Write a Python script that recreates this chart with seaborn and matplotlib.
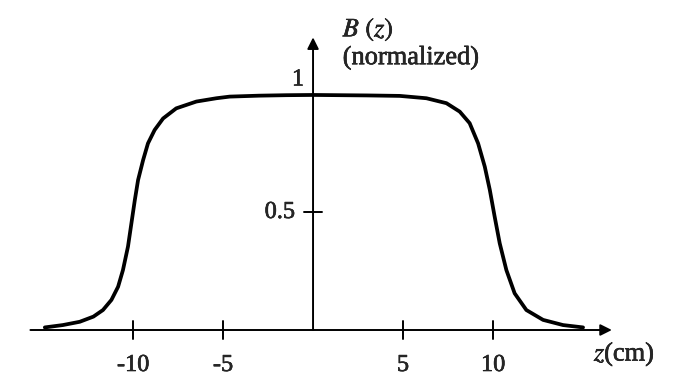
import matplotlib
matplotlib.use("Agg")
import matplotlib.pyplot as plt
import matplotlib.patheffects as pe
import seaborn as sns
import pandas as pd

# Data
z_cm = [-14.9, -13.9, -12.96, -12.2, -11.67, -11.2, -10.83, -10.56, -10.28,
        -10.09, -9.9, -9.72, -9.44, -9.17, -8.8, -8.33, -7.6, -6.48, -5.37,
        -4.63, -3.0, -1.5, 0.0, 1.5, 3.0, 4.82, 6.3, 7.41, 8.15, 8.7, 9.17,
        9.54, 9.82, 10.09, 10.37, 10.74, 11.2, 11.85, 12.78, 13.89, 15.0]
b_norm = [0.011, 0.021, 0.035, 0.057, 0.085, 0.128, 0.184, 0.255, 0.355,
          0.454, 0.553, 0.638, 0.723, 0.794, 0.851, 0.900, 0.943, 0.972, 0.986,
          0.993, 0.997, 0.999, 1.0, 0.999, 0.998, 0.996, 0.986, 0.965, 0.929,
          0.880, 0.794, 0.695, 0.596, 0.482, 0.369, 0.255, 0.156, 0.085, 0.043,
          0.021, 0.011]
x_ticks = [-10, -5, 5, 10]
x_tick_labels = ["-10", "-5", "5", "10"]
y_ticks = [0.5]
y_tick_labels = ["0.5"]

sns.set_style("white")
plt.rcParams["font.family"] = ["Liberation Serif", "DejaVu Serif"]
plt.rcParams["mathtext.fontset"] = "stix"

fig = plt.figure(figsize=(6.79, 3.89), dpi=100)
ax = fig.add_axes([0, 0, 1, 1])

df = pd.DataFrame({"z": z_cm, "B": b_norm})
sns.lineplot(data=df, x="z", y="B", ax=ax, color="black", linewidth=2.7,
             sort=True, estimator=None)
for ln in ax.get_lines():
    ln.set_solid_joinstyle("round")
    ln.set_solid_capstyle("round")

ax.set_xlim(-17.39, 20.33)
ax.set_ylim(-0.251, 1.404)
ax.axis("off")

# axes with arrows
ax.annotate("", xy=(16.6, 0), xytext=(-15.7, 0),
            arrowprops=dict(arrowstyle="-|>", mutation_scale=17, lw=1.4,
                            color="black", shrinkA=0, shrinkB=0))
ax.annotate("", xy=(0, 1.245), xytext=(0, 0),
            arrowprops=dict(arrowstyle="-|>", mutation_scale=17, lw=1.4,
                            color="black", shrinkA=0, shrinkB=0))

fx = [pe.withStroke(linewidth=0.4, foreground="black")]

# ticks
for xt, lab in zip(x_ticks, x_tick_labels):
    ax.plot([xt, xt], [-0.038, 0.038], color="black", lw=1.4)
    ax.text(xt, -0.151, lab, ha="center", va="center", fontsize=17.5,
            path_effects=fx)
for yt, lab in zip(y_ticks, y_tick_labels):
    ax.plot([-0.5, 0.5], [yt, yt], color="black", lw=1.4)
    ax.text(-1.0, yt, lab, ha="right", va="center", fontsize=17.5,
            path_effects=fx)
ax.text(-0.5, 1.064, "1", ha="right", va="center", fontsize=17.5,
        path_effects=fx)

ax.text(1.65, 1.277, r"$B\ (z)$", ha="left", va="center", fontsize=19,
        path_effects=fx)
ax.text(1.65, 1.157, "(normalized)", ha="left", va="center", fontsize=19,
        path_effects=fx)
ax.text(15.6, -0.105, r"$z$(cm)", ha="left", va="center", fontsize=19,
        path_effects=fx)

fig.savefig("out.png", dpi=100)
